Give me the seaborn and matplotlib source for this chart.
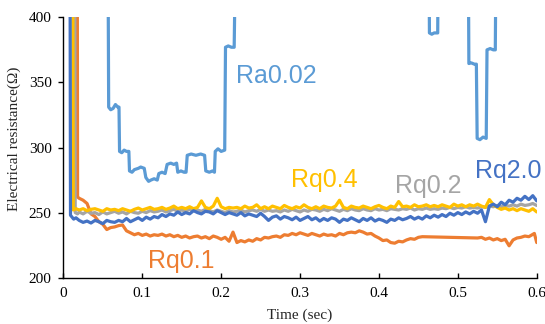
import matplotlib
matplotlib.use("Agg")
import matplotlib.pyplot as plt
import seaborn as sns

# ---------------- data ----------------
grid_t = [0.020, 0.025, 0.030, 0.035, 0.040, 0.045, 0.050, 0.055, 0.060, 0.065,
          0.070, 0.075, 0.080, 0.085, 0.090, 0.095, 0.100, 0.105, 0.110, 0.115,
          0.120, 0.125, 0.130, 0.135, 0.140, 0.145, 0.150, 0.155, 0.160, 0.165,
          0.170, 0.175, 0.180, 0.185, 0.190, 0.195, 0.200, 0.205, 0.210, 0.215,
          0.220, 0.225, 0.230, 0.235, 0.240, 0.245, 0.250, 0.255, 0.260, 0.265,
          0.270, 0.275, 0.280, 0.285, 0.290, 0.295, 0.300, 0.305, 0.310, 0.315,
          0.320, 0.325, 0.330, 0.335, 0.340, 0.345, 0.350, 0.355, 0.360, 0.365,
          0.370, 0.375, 0.380, 0.385, 0.390, 0.395, 0.400, 0.405, 0.410, 0.415,
          0.420, 0.425, 0.430, 0.435, 0.440, 0.445, 0.450, 0.455, 0.460, 0.465,
          0.470, 0.475, 0.480, 0.485, 0.490, 0.495, 0.500, 0.505, 0.510, 0.515,
          0.520, 0.525, 0.530, 0.535, 0.540, 0.545, 0.550, 0.555, 0.560, 0.565,
          0.570, 0.575, 0.580, 0.585, 0.590, 0.595, 0.600]

# Rq2.0
rq20_lead_t = [0.0084, 0.0090, 0.0130, 0.0160]
rq20_lead_v = [460, 248, 245, 246]
rq20_v = [244, 242.5, 243.5, 242, 244, 243, 241.5, 244, 243, 242.5,
          244, 243, 245.5, 243, 244.5, 246, 244, 246.5, 245, 247,
          246, 248.5, 247, 249, 248, 250.5, 248.5, 250, 249, 251.5,
          250, 249, 251, 250.5, 249, 251.5, 250, 248.5, 250, 249,
          248, 250, 247.5, 249, 248, 247, 249.5, 247, 244, 246.5,
          247.5, 245, 247, 246, 244.5, 246.5, 244, 245.5, 247, 244.5,
          246, 243.5, 245.5, 244, 246, 245, 242.5, 245, 244, 246,
          244.5, 243, 245.5, 244, 246, 243.5, 245, 244, 242.5, 245,
          244, 246, 244.5, 245.5, 247, 245, 246.5, 245, 247.5, 246,
          248, 246.5, 248.5, 247, 249.5, 248, 250, 248.5, 250.5, 249,
          251, 249.5, 252, 243, 255, 256.5, 254.5, 258, 256, 259.5,
          258, 261, 259.5, 262.5, 260, 263, 259]

# Rq0.4
rq04_lead_t = [0.0118, 0.0125, 0.0160]
rq04_lead_v = [460, 252, 253]
rq04_v = [252, 253, 251.5, 252.5, 253, 252, 251, 253, 252, 252.5,
          251.5, 253, 252, 251, 252.5, 253.5, 252, 253, 254, 252.5,
          253, 254, 252.5, 253.5, 255, 253, 254, 253, 254.5, 253,
          254, 259, 254, 253, 255, 261, 254.5, 253, 254, 253.5,
          254, 253, 255, 253.5, 254, 256, 253, 254.5, 253, 255,
          254, 253, 255.5, 254, 253, 254.5, 253.5, 256, 254, 253,
          254.5, 253, 255, 254, 253.5, 255, 259.5, 254, 253, 255,
          254, 253.5, 255, 254, 253, 254.5, 255.5, 254, 253, 255,
          254, 258.5, 254.5, 255, 254, 256, 254.5, 255, 256, 254.5,
          255.5, 254.5, 256, 255, 254, 256.5, 255, 256, 254.5, 256,
          255, 256.5, 255, 254, 260, 256, 254, 252.5, 253.5, 252,
          253, 251.5, 253, 252, 251, 253, 250.5]

# Rq0.2
rq02_lead_t = [0.0143, 0.0150, 0.0180]
rq02_lead_v = [460, 250, 249]
rq02_v = [250.5, 249, 251, 249.5, 250, 248.5, 250.5, 249, 250, 251,
          249.5, 250.5, 249, 251, 250, 249.5, 251, 250, 251.5, 250.5,
          251, 252, 250.5, 251.5, 252.5, 251, 252, 251, 252.5, 251.5,
          252, 251, 252.5, 251.5, 250.5, 252, 251, 250, 251.5, 250.5,
          251, 252, 250.5, 251.5, 252, 251, 252.5, 251, 252, 251,
          251.5, 250.5, 252, 251, 252.5, 251.5, 250.5, 252, 251, 252.5,
          252, 251, 252.5, 251.5, 253, 252, 251, 252.5, 251.5, 253,
          252, 251.5, 253, 252, 251.5, 253, 252, 252.5, 251.5, 253,
          252.5, 252, 253, 252.5, 253.5, 252, 253, 252.5, 253.5, 252.5,
          253, 252.5, 253.5, 253, 254, 253, 254, 253.5, 254.5, 253.5,
          254, 253.5, 254.5, 254, 255, 254.5, 255.5, 254.5, 255.5, 255,
          256, 255, 256.5, 255.5, 256, 257, 255.5]

# Rq0.1 (has a gap between 0.455 and 0.525)
rq01_lead_t = [0.0176, 0.0180]
rq01_lead_v = [460, 262]
rq01_v = [261, 259.5, 257, 249, 247, 243, 241, 237, 238.5, 239,
          240, 240.5, 236, 234.5, 233, 234, 232.5, 233.5, 232, 233,
          232.5, 233.5, 232, 233, 231.5, 232.5, 231, 232, 230.5, 231.5,
          232, 230.5, 231.5, 230, 232, 231, 229.5, 231, 228, 235,
          227, 228.5, 227.5, 229, 228, 230, 229, 231, 230.5, 231.5,
          232, 231, 233, 232.5, 234, 233, 234.5, 233.5, 232.5, 234,
          233, 232, 233.5, 232.5, 233, 232, 234, 233, 234.5, 235,
          234.5, 236, 235, 233.5, 234, 232, 230.5, 228.5, 229, 227,
          226.5, 228, 227.5, 229, 230, 229.5, 231, 231.5]
rq01_tail_t = [0.525, 0.530, 0.535, 0.540, 0.545, 0.550, 0.555, 0.560,
               0.565, 0.570, 0.575, 0.580, 0.585, 0.590, 0.597, 0.600]
rq01_tail_v = [230.5, 231, 229.5, 230.5, 229, 230, 228.5, 229.5,
               224.5, 229, 230.5, 231, 232, 231.5, 234, 227]

# Ra0.02 (step-like, mostly above the 400 limit)
ra002_t = [0.0565, 0.0574, 0.060, 0.063, 0.066, 0.069, 0.0705, 0.0712, 0.074, 0.077,
           0.080, 0.083, 0.0838, 0.087, 0.090, 0.095, 0.098, 0.1025, 0.1045, 0.108,
           0.111, 0.115, 0.119, 0.121, 0.125, 0.129, 0.1315, 0.136, 0.140, 0.1435,
           0.145, 0.149, 0.153, 0.1555, 0.157, 0.162, 0.168, 0.174, 0.179, 0.1805,
           0.185, 0.189, 0.1915, 0.1925, 0.196, 0.200, 0.2045, 0.2055, 0.209, 0.213,
           0.2165, 0.2184, 0.4634, 0.4640, 0.467, 0.470, 0.4745, 0.4752, 0.5132, 0.5140,
           0.517, 0.521, 0.5235, 0.5245, 0.528, 0.532, 0.536, 0.537, 0.541, 0.545,
           0.5475, 0.5485]
ra002_v = [460, 331, 329, 330, 333, 331, 331, 297, 296, 298,
           297, 297, 282, 281, 283, 284, 285, 284, 277, 274,
           275, 276, 275, 280, 281, 280, 287, 288, 287, 288,
           281, 282, 281, 281, 294, 295, 294, 295, 294, 282,
           281, 282, 281, 297, 299, 297, 298, 377, 378, 377,
           377, 460, 460, 388, 387, 388, 388, 460, 460, 364.5,
           365, 364, 364, 307, 306, 308, 307, 375, 376, 375,
           375, 460]

series_names = ["Ra0.02", "Rq0.1", "Rq0.2", "Rq0.4", "Rq2.0"]
series_colors = ["#5B9BD5", "#ED7D31", "#A5A5A5", "#FFC000", "#4472C4"]

x_ticks = [0, 0.1, 0.2, 0.3, 0.4, 0.5, 0.6]
x_ticklabels = ["0", "0.1", "0.2", "0.3", "0.4", "0.5", "0.6"]
y_ticks = [200, 250, 300, 350, 400]

# ---------------- plot ----------------
sns.set_style("ticks")
plt.rcParams['font.family'] = ['Liberation Serif', 'DejaVu Serif']

fig = plt.figure(figsize=(5.45, 3.24), dpi=100)
ax = fig.add_axes([0.1163, 0.1429, 0.8685, 0.8037])

col = dict(zip(series_names, series_colors))
lw = 2.3
kw = dict(ax=ax, estimator=None, sort=False, linewidth=lw, legend=False)

sns.lineplot(x=rq01_lead_t + grid_t[:88] + rq01_tail_t,
             y=rq01_lead_v + rq01_v + rq01_tail_v, color=col["Rq0.1"], **kw)
sns.lineplot(x=rq02_lead_t + grid_t, y=rq02_lead_v + rq02_v, color=col["Rq0.2"], **kw)
sns.lineplot(x=rq04_lead_t + grid_t, y=rq04_lead_v + rq04_v, color=col["Rq0.4"], **kw)
sns.lineplot(x=rq20_lead_t + grid_t, y=rq20_lead_v + rq20_v, color=col["Rq2.0"], **kw)
sns.lineplot(x=ra002_t, y=ra002_v, color=col["Ra0.02"], **kw)

ax.set_xlim(0, 0.6)
ax.set_ylim(200, 400)
ax.set_xticks(x_ticks)
ax.set_xticklabels(x_ticklabels)
ax.set_yticks(y_ticks)

for s in ["top", "right"]:
    ax.spines[s].set_visible(False)
for s in ["left", "bottom"]:
    ax.spines[s].set_color("black")
    ax.spines[s].set_linewidth(1.0)

ax.tick_params(axis="x", direction="in", length=3.5, width=1, pad=7,
               labelsize=11, colors="black")
ax.tick_params(axis="y", direction="out", length=3.5, width=1, pad=5,
               labelsize=11, colors="black")

ax.set_xlabel("Time (sec)", fontsize=11, labelpad=6)
ax.set_ylabel("Electrical resistance(Ω)", fontsize=11)
ax.yaxis.set_label_coords(-0.09, 0.535)

sans = ['Liberation Sans', 'DejaVu Sans']
ann = [("Ra0.02", 0.2188, 349.3), ("Rq0.4", 0.289, 269.9), ("Rq0.2", 0.420, 264.8),
       ("Rq2.0", 0.5217, 276.3), ("Rq0.1", 0.1076, 207.2)]
for name, tx, ty in ann:
    ax.text(tx, ty, name, color=col[name], fontsize=18, family=sans,
            ha="left", va="baseline", clip_on=False)

fig.savefig("out.png", dpi=100)
